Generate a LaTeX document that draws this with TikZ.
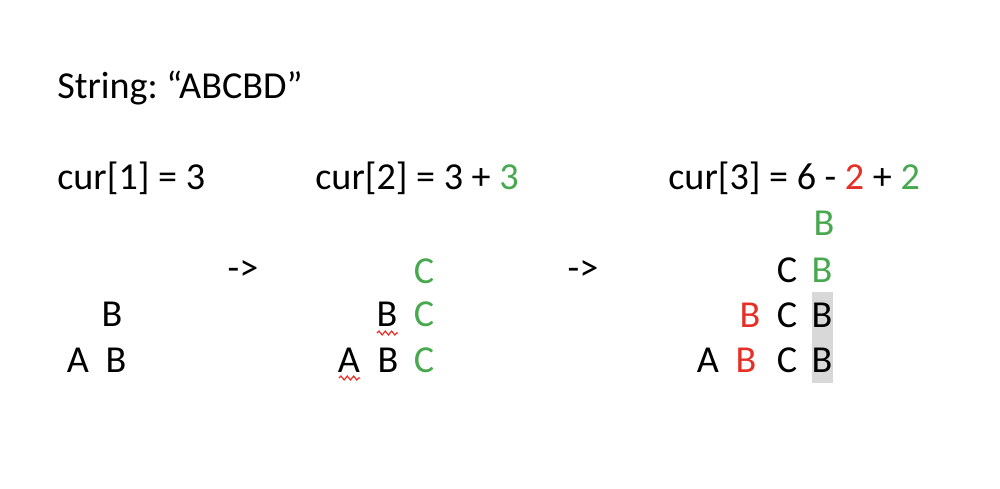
\documentclass[tikz,border=0pt]{standalone}
\usepackage{fontspec}
\setmainfont{Carlito}
\usetikzlibrary{decorations.pathmorphing}
\definecolor{mygreen}{RGB}{72,168,78}
\definecolor{myred}{RGB}{228,48,38}
\definecolor{mygray}{RGB}{216,216,216}
\frenchspacing
\begin{document}
\begin{tikzpicture}[x=0.02cm,y=-0.02cm,
  txt/.style={anchor=base west,inner sep=0pt,font=\fontsize{21.7}{26}\selectfont},
  let/.style={anchor=base,inner sep=0pt,font=\fontsize{21.7}{26}\selectfont},
  squig/.style={myred,line width=0.7pt,decorate,decoration={snake,amplitude=1.1pt,segment length=3.6pt}}]
\useasboundingbox (0,0) rectangle (1000,488);
% shaded column
\fill[mygray] (812,292) rectangle (833,383);
% heading and counts
\node[txt] (str) at (57,98) {String: “ABCBD”};
\node[txt] (cur1) at (57,189) {cur[1] = 3};
\node[txt] (cur2) at (315,189) {cur[2] = 3 + \textcolor{mygreen}{3}};
\node[txt] (cur3) at (668,189) {cur[3] = 6 - \textcolor{myred}{2} + \textcolor{mygreen}{2}};
\node[let] (arr1) at (243,280) {->};
\node[let] (arr2) at (583,280) {->};
% first stack
\node[let] (a1) at (78,372) {A};
\node[let] (b1) at (116,372) {B};
\node[let] (b1t) at (112,326) {B};
% second stack
\node[let] (a2) at (349,372) {A};
\node[let] (b2) at (388,372) {B};
\node[let] (b2t) at (387,326) {B};
\foreach \y in {283,326,372}
  \node[let,mygreen] (c2-\y) at (424,\y) {C};
\draw[squig] (339,378) -- (360,378);
\draw[squig] (377,333) -- (398,333);
% third stack
\node[let] (a3) at (708,372) {A};
\node[let,myred] (b3) at (746,372) {B};
\node[let,myred] (b3t) at (750,327) {B};
\foreach \y in {282,327,372}
  \node[let] (c3-\y) at (787,\y) {C};
\node[let] (d3a) at (822,372) {B};
\node[let] (d3b) at (822,327) {B};
\node[let,mygreen] (d3c) at (822,282) {B};
\node[let,mygreen] (d3d) at (824,235) {B};
\end{tikzpicture}
\end{document}
